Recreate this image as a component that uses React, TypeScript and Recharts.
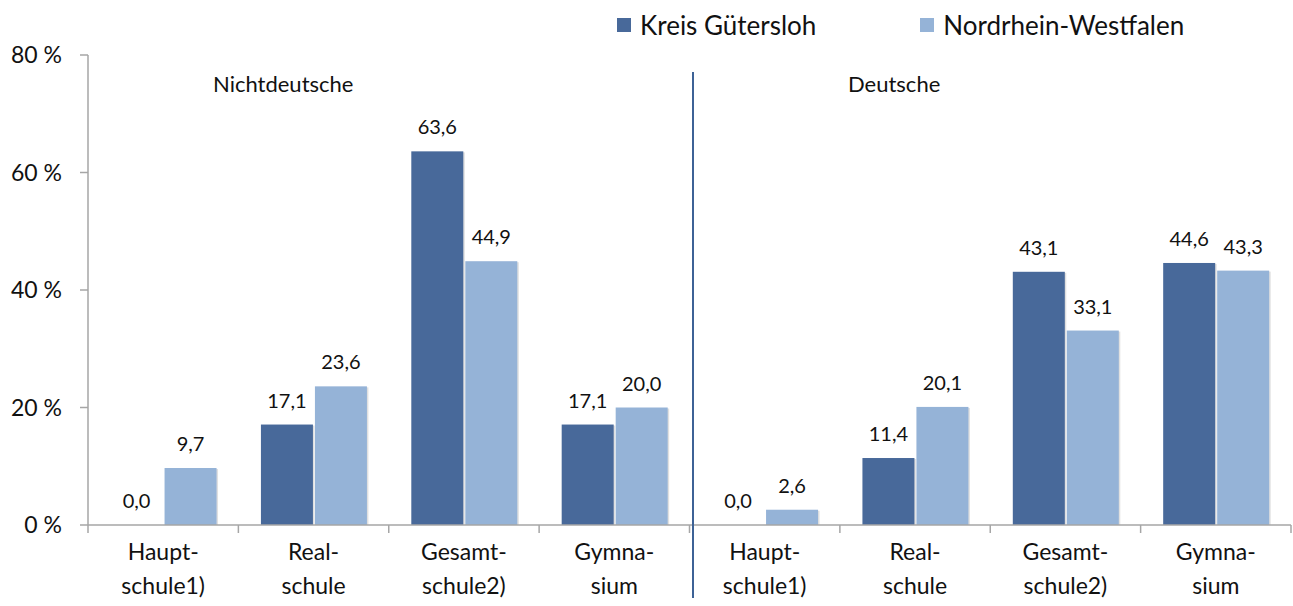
import { BarChart, Bar, XAxis, YAxis } from 'recharts';

const schoolTypes = [
  ['Haupt-', 'schule1)'],
  ['Real-', 'schule'],
  ['Gesamt-', 'schule2)'],
  ['Gymna-', 'sium'],
];
const groups = ['Nichtdeutsche', 'Deutsche'];
const kreisValues = [0.0, 17.1, 63.6, 17.1, 0.0, 11.4, 43.1, 44.6];
const nrwValues = [9.7, 23.6, 44.9, 20.0, 2.6, 20.1, 33.1, 43.3];
const yTicks = [0, 20, 40, 60, 80];

const seriesNames = ['Kreis Gütersloh', 'Nordrhein-Westfalen'];
const DARK = '#48699A';
const LIGHT = '#95B3D7';
const AXIS = '#A6A6A6';
const FONT = 'Lato, "Noto Sans", sans-serif';

const W = 1293;
const H = 606;
const LEFT = 88;
const RIGHT = 2;
const TOP = 55;
const XAXIS_H = 81;
const BAND = (W - LEFT - RIGHT) / kreisValues.length;

const data = kreisValues.map((k, i) => ({
  id: `c${i}`,
  lines: schoolTypes[i % schoolTypes.length],
  kreis: k,
  nrw: nrwValues[i],
}));

const fmt = (v: number) => v.toFixed(1).replace('.', ',');

function XTick(props: any) {
  const { x, y, index } = props;
  const item = data[index];
  const last = index === data.length - 1;
  return (
    <g>
      <line x1={x - BAND / 2} x2={x - BAND / 2} y1={y} y2={y + 8} stroke={AXIS} strokeWidth={1.5} />
      {last && (
        <line x1={x + BAND / 2} x2={x + BAND / 2} y1={y} y2={y + 8} stroke={AXIS} strokeWidth={1.5} />
      )}
      <text x={x} y={y + 35} textAnchor="middle" fontSize={23} fill="#111" fontFamily={FONT}>
        {item.lines[0]}
      </text>
      <text x={x} y={y + 69} textAnchor="middle" fontSize={23} fill="#111" fontFamily={FONT}>
        {item.lines[1]}
      </text>
    </g>
  );
}

function ValueLabel(props: any) {
  const { x, y, width, value } = props;
  return (
    <text x={x + width / 2} y={y - 17} textAnchor="middle" fontSize={20} fill="#111" fontFamily={FONT}>
      {fmt(value)}
    </text>
  );
}

function ShadowBar(props: any) {
  const { x, y, width, height, fill } = props;
  if (!height || height <= 0) return null;
  return (
    <g>
      <rect x={x + 1.5} y={y + 1} width={width} height={height - 1} fill="#000" opacity={0.12} />
      <rect x={x} y={y} width={width} height={height} fill={fill} />
    </g>
  );
}

const groupLeft = [213, 848];

export default function App() {
  const colors = [DARK, LIGHT];
  return (
    <div style={{ position: 'absolute', left: 0, top: 0, width: W, height: H, background: '#fff' }}>
      <BarChart
        width={W}
        height={H}
        data={data}
        margin={{ top: TOP, right: RIGHT, bottom: 0, left: 0 }}
        barCategoryGap="15%"
        barGap={2}
      >
        <YAxis
          width={LEFT}
          domain={[0, 80]}
          ticks={yTicks}
          tickFormatter={(v: number) => `${v} %`}
          axisLine={{ stroke: AXIS, strokeWidth: 1.5 }}
          tickLine={{ stroke: AXIS, strokeWidth: 1.5 }}
          tickSize={8}
          tickMargin={18}
          tick={{ fontSize: 23, fill: '#111', fontFamily: FONT }}
        />
        <XAxis
          dataKey="id"
          height={XAXIS_H}
          interval={0}
          axisLine={{ stroke: AXIS, strokeWidth: 1.5 }}
          tickLine={false}
          tickSize={0}
          tickMargin={0}
          tick={<XTick />}
        />
        <Bar dataKey="kreis" name={seriesNames[0]} fill={DARK} shape={<ShadowBar />} label={<ValueLabel />} isAnimationActive={false} />
        <Bar dataKey="nrw" name={seriesNames[1]} fill={LIGHT} shape={<ShadowBar />} label={<ValueLabel />} isAnimationActive={false} />
      </BarChart>
      <div
        style={{
          position: 'absolute',
          top: 9,
          left: 617,
          display: 'flex',
          fontFamily: FONT,
          fontSize: 26,
          color: '#111',
        }}
      >
        {seriesNames.map((n, i) => (
          <div key={n} style={{ display: 'flex', alignItems: 'center', marginRight: i === 0 ? 104 : 0 }}>
            <span style={{ width: 14, height: 14, background: colors[i], display: 'inline-block', marginRight: 9 }} />
            <span>{n}</span>
          </div>
        ))}
      </div>
      {groups.map((g, i) => (
        <div
          key={g}
          style={{
            position: 'absolute',
            top: 70,
            left: groupLeft[i],
            fontFamily: FONT,
            fontSize: 22,
            color: '#111',
          }}
        >
          {g}
        </div>
      ))}
      <div
        style={{
          position: 'absolute',
          left: LEFT + 4 * BAND + 2,
          top: 72,
          width: 2,
          height: 526,
          background: '#3D6296',
        }}
      />
    </div>
  );
}
